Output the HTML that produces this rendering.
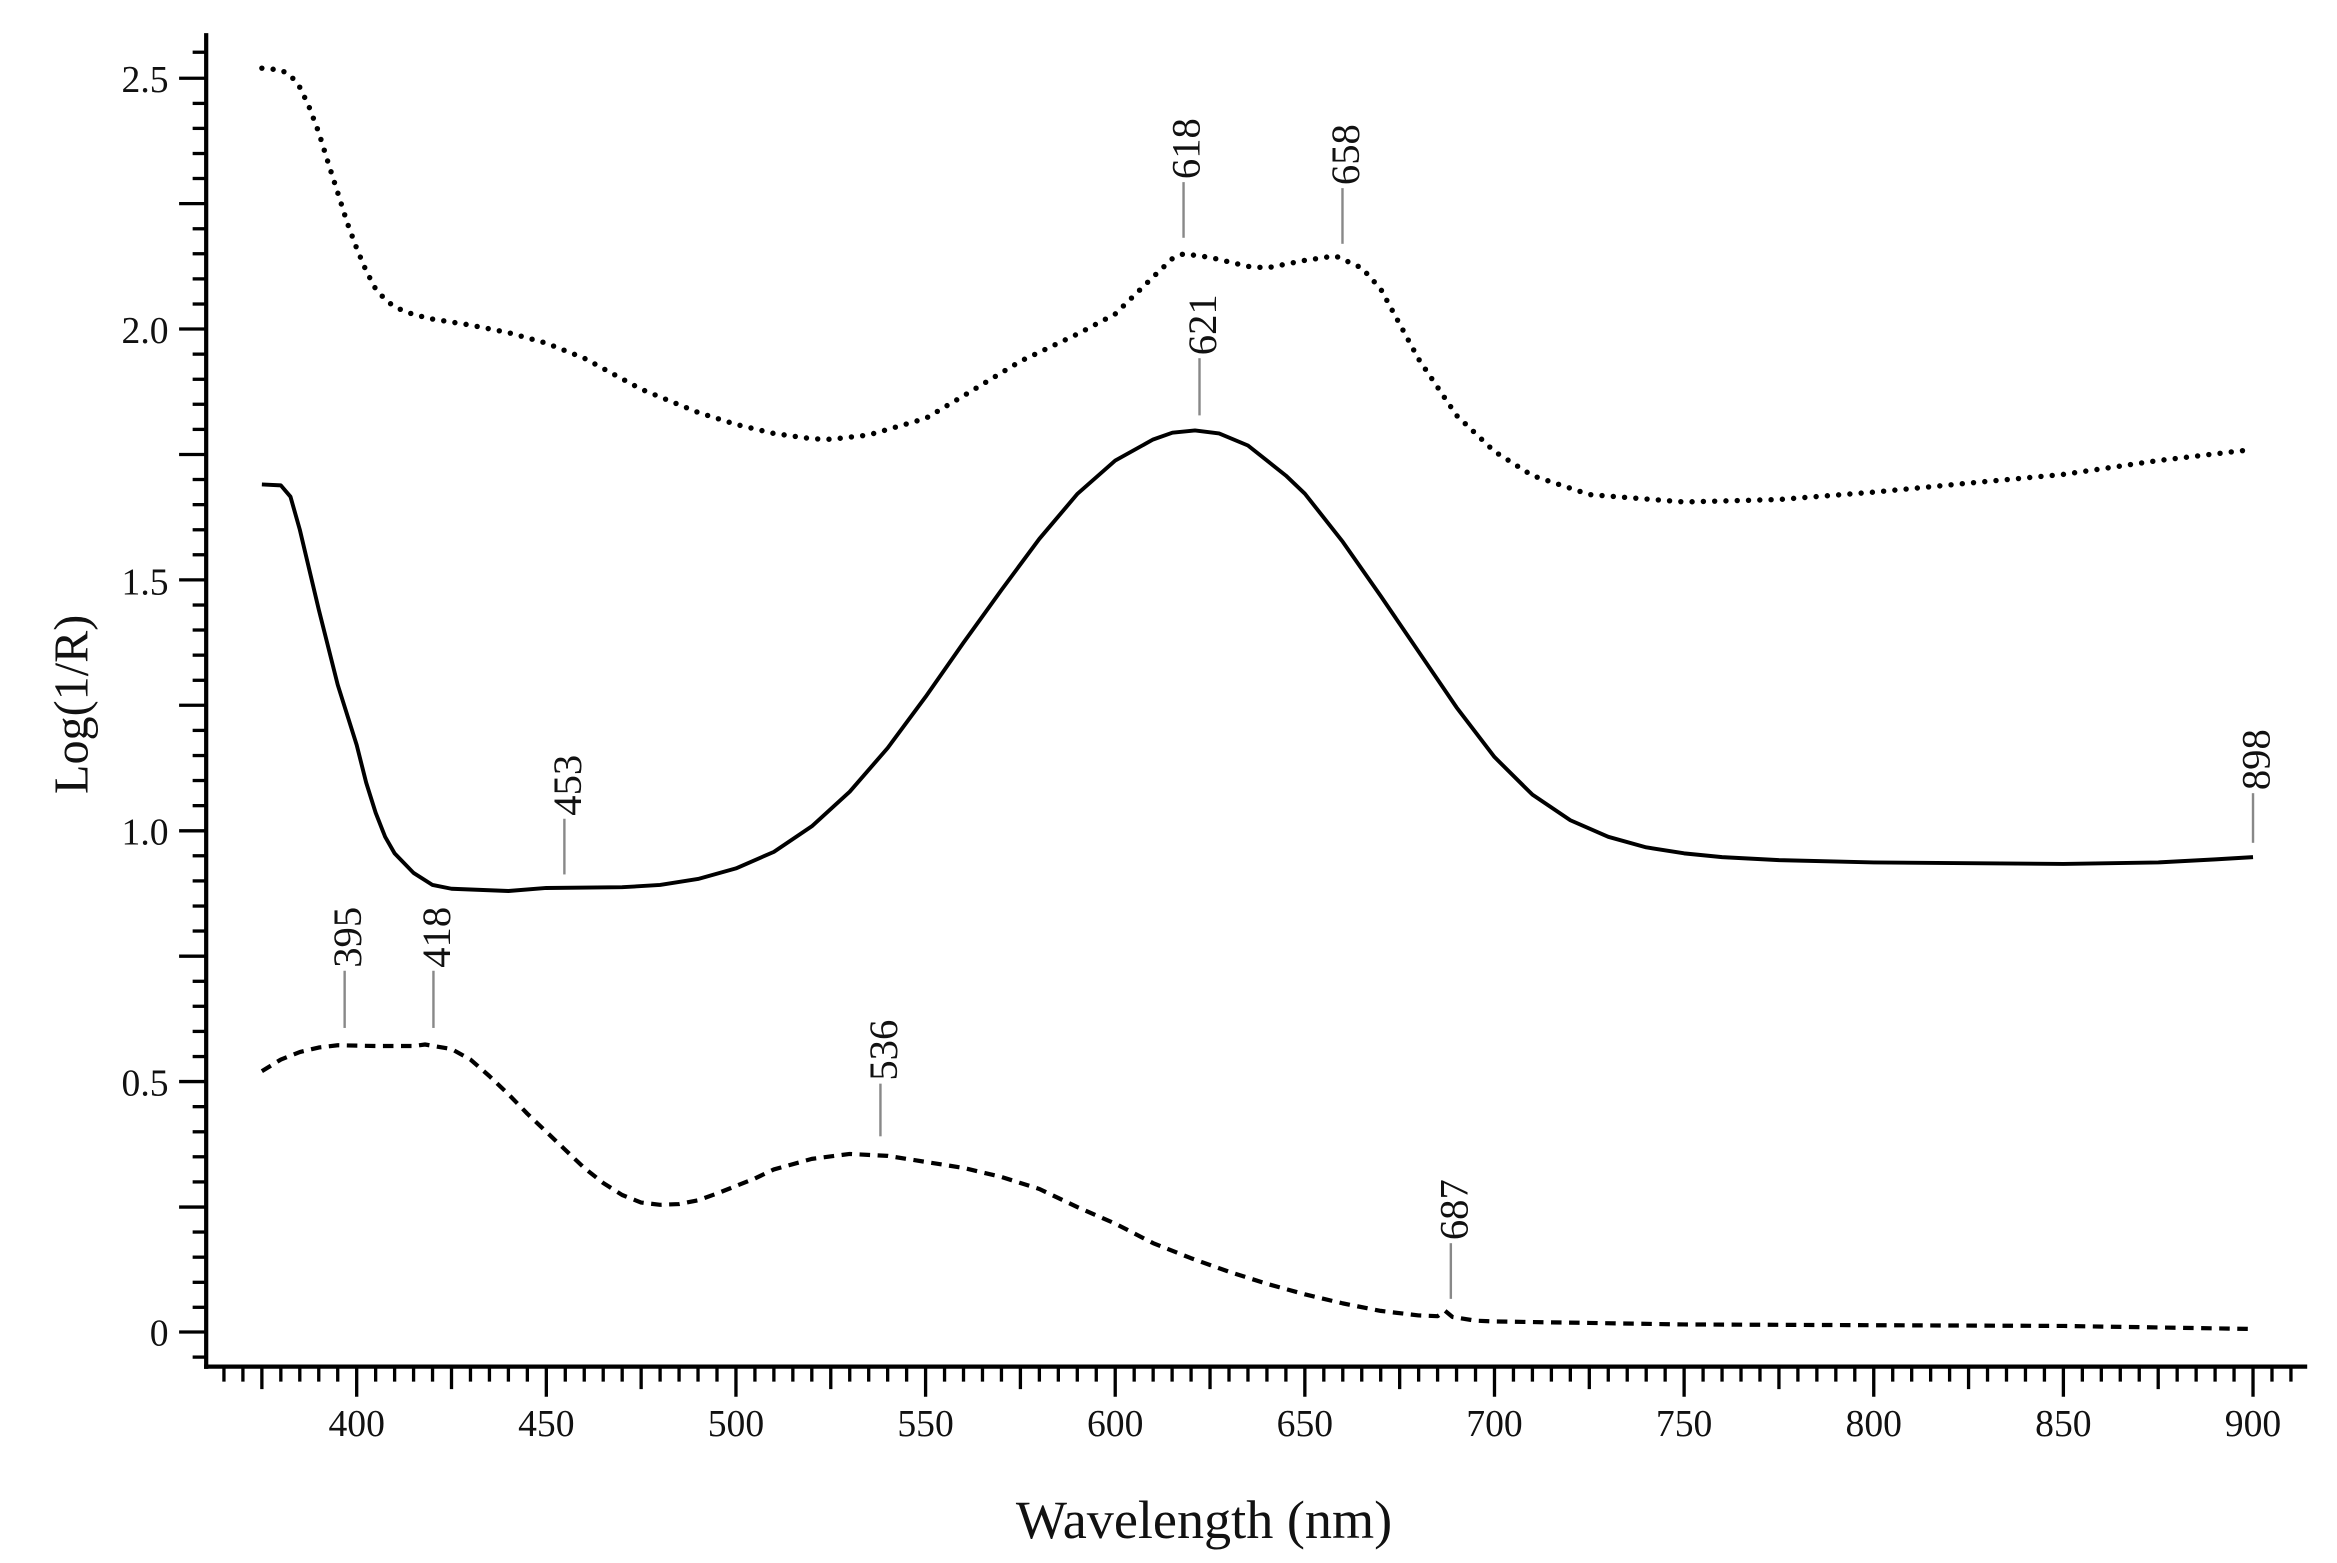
<!DOCTYPE html>
<html><head><meta charset="utf-8"><style>
html,body{margin:0;padding:0;background:#fff;}
svg{display:block;}
text{font-family:"Liberation Serif",serif;fill:#111;}
</style></head><body>
<svg width="2337" height="1563" viewBox="0 0 1552.8 1038.5" preserveAspectRatio="none" xmlns="http://www.w3.org/2000/svg">
<rect width="1552.8" height="1038.5" fill="#fff"/>
<g stroke="#000" fill="none">
<line x1="137" y1="22" x2="137" y2="909.5" stroke-width="2.8"/>
<line x1="135.6" y1="908" x2="1533" y2="908" stroke-width="2.8"/>
<g stroke-width="2.2">
<line x1="128" y1="34.7" x2="137" y2="34.7"/><line x1="119" y1="52" x2="137" y2="52"/>
<line x1="128" y1="68.7" x2="137" y2="68.7"/><line x1="128" y1="85.3" x2="137" y2="85.3"/>
<line x1="128" y1="102" x2="137" y2="102"/><line x1="128" y1="118.6" x2="137" y2="118.6"/>
<line x1="119" y1="135.3" x2="137" y2="135.3"/><line x1="128" y1="152" x2="137" y2="152"/>
<line x1="128" y1="168.6" x2="137" y2="168.6"/><line x1="128" y1="185.3" x2="137" y2="185.3"/>
<line x1="128" y1="202" x2="137" y2="202"/><line x1="119" y1="218.6" x2="137" y2="218.6"/>
<line x1="128" y1="235.3" x2="137" y2="235.3"/><line x1="128" y1="252" x2="137" y2="252"/>
<line x1="128" y1="268.6" x2="137" y2="268.6"/><line x1="128" y1="285.3" x2="137" y2="285.3"/>
<line x1="119" y1="302" x2="137" y2="302"/><line x1="128" y1="318.6" x2="137" y2="318.6"/>
<line x1="128" y1="335.3" x2="137" y2="335.3"/><line x1="128" y1="352" x2="137" y2="352"/>
<line x1="128" y1="368.6" x2="137" y2="368.6"/><line x1="119" y1="385.3" x2="137" y2="385.3"/>
<line x1="128" y1="402" x2="137" y2="402"/><line x1="128" y1="418.6" x2="137" y2="418.6"/>
<line x1="128" y1="435.3" x2="137" y2="435.3"/><line x1="128" y1="452" x2="137" y2="452"/>
<line x1="119" y1="468.6" x2="137" y2="468.6"/><line x1="128" y1="485.3" x2="137" y2="485.3"/>
<line x1="128" y1="502" x2="137" y2="502"/><line x1="128" y1="518.6" x2="137" y2="518.6"/>
<line x1="128" y1="535.3" x2="137" y2="535.3"/><line x1="119" y1="552" x2="137" y2="552"/>
<line x1="128" y1="568.6" x2="137" y2="568.6"/><line x1="128" y1="585.3" x2="137" y2="585.3"/>
<line x1="128" y1="602" x2="137" y2="602"/><line x1="128" y1="618.6" x2="137" y2="618.6"/>
<line x1="119" y1="635.3" x2="137" y2="635.3"/><line x1="128" y1="652" x2="137" y2="652"/>
<line x1="128" y1="668.6" x2="137" y2="668.6"/><line x1="128" y1="685.3" x2="137" y2="685.3"/>
<line x1="128" y1="702" x2="137" y2="702"/><line x1="119" y1="718.6" x2="137" y2="718.6"/>
<line x1="128" y1="735.3" x2="137" y2="735.3"/><line x1="128" y1="752" x2="137" y2="752"/>
<line x1="128" y1="768.6" x2="137" y2="768.6"/><line x1="128" y1="785.3" x2="137" y2="785.3"/>
<line x1="119" y1="802" x2="137" y2="802"/><line x1="128" y1="818.6" x2="137" y2="818.6"/>
<line x1="128" y1="835.3" x2="137" y2="835.3"/><line x1="128" y1="852" x2="137" y2="852"/>
<line x1="128" y1="868.6" x2="137" y2="868.6"/><line x1="119" y1="885" x2="137" y2="885"/>
<line x1="128" y1="901.7" x2="137" y2="901.7"/>
</g>
</g>
<g stroke="#000" stroke-width="2.2" fill="none">
<path d="M148.8 908v10M161.4 908v10M174 908v15M186.6 908v10M199.2 908v10M211.8 908v10M224.4 908v10M237 908v20M249.6 908v10M262.2 908v10M274.8 908v10M287.4 908v10M300 908v15M312.6 908v10M325.2 908v10M337.8 908v10M350.4 908v10M363 908v20M375.6 908v10M388.2 908v10M400.8 908v10M413.4 908v10M426 908v15M438.6 908v10M451.2 908v10M463.8 908v10M476.4 908v10M489 908v20M501.6 908v10M514.2 908v10M526.8 908v10M539.4 908v10M552 908v15M564.6 908v10M577.2 908v10M589.8 908v10M602.4 908v10M615 908v20M627.6 908v10M640.2 908v10M652.8 908v10M665.4 908v10M678 908v15M690.6 908v10M703.2 908v10M715.8 908v10M728.4 908v10M741 908v20M753.6 908v10M766.2 908v10M778.8 908v10M791.4 908v10M804 908v15M816.6 908v10M829.2 908v10M841.8 908v10M854.4 908v10M867 908v20M879.6 908v10M892.2 908v10M904.8 908v10M917.4 908v10M930 908v15M942.6 908v10M955.2 908v10M967.8 908v10M980.4 908v10M993 908v20M1005.6 908v10M1018.2 908v10M1030.8 908v10M1043.4 908v10M1056 908v15M1068.6 908v10M1081.2 908v10M1093.8 908v10M1106.4 908v10M1119 908v20M1131.6 908v10M1144.2 908v10M1156.8 908v10M1169.4 908v10M1182 908v15M1194.6 908v10M1207.2 908v10M1219.8 908v10M1232.4 908v10M1245 908v20M1257.6 908v10M1270.2 908v10M1282.8 908v10M1295.4 908v10M1308 908v15M1320.6 908v10M1333.2 908v10M1345.8 908v10M1358.4 908v10M1371 908v20M1383.6 908v10M1396.2 908v10M1408.8 908v10M1421.4 908v10M1434 908v15M1446.6 908v10M1459.2 908v10M1471.8 908v10M1484.4 908v10M1497 908v20M1509.6 908v10M1522.2 908v10"/>
</g>
<g font-size="25" text-anchor="end">
<text x="112" y="61">2.5</text><text x="112" y="228">2.0</text><text x="112" y="395">1.5</text>
<text x="112" y="561">1.0</text><text x="112" y="728">0.5</text><text x="112" y="894">0</text>
</g>
<g font-size="25" text-anchor="middle">
<text x="237" y="954">400</text><text x="363" y="954">450</text><text x="489" y="954">500</text>
<text x="615" y="954">550</text><text x="741" y="954">600</text><text x="867" y="954">650</text>
<text x="993" y="954">700</text><text x="1119" y="954">750</text><text x="1245" y="954">800</text>
<text x="1371" y="954">850</text><text x="1497" y="954">900</text>
</g>
<text x="800" y="1022" font-size="36" text-anchor="middle">Wavelength (nm)</text>
<text transform="translate(58,468) rotate(-90)" font-size="32" text-anchor="middle">Log(1/R)</text>
<polyline fill="none" stroke="#000" stroke-width="3.6" stroke-linecap="round" stroke-dasharray="0 7.5" stroke-linejoin="round"
points="174,45.3 186.6,46.5 193,50 199.2,58 205,70 211.8,88 218,108 224.4,128 230.7,148 237,165 243.3,180 249.6,192 256,199 262.2,204 274.8,209 287.4,212 300,214 312.6,216 337.8,221 363,228 388.2,238 426,258.6 463.8,274 489,282 514.2,288 539.4,291.5 552,291.9 577.2,289 615,278 640.2,263 678,240 715.8,222 741,208.6 766.2,184 778.8,172 786.4,168.6 804,171 829.2,177 841.8,178 867,173 887.2,170 904.8,178 917.4,192 942.6,238.6 967.8,276 993,300 1018.2,316 1056,328.6 1119,333.5 1182,331.9 1245,327 1308,321 1371,315.2 1434,306 1497,298.6"/>
<polyline fill="none" stroke="#000" stroke-width="2.6" stroke-linejoin="round"
points="174,321.9 186.6,322.5 193,330 199.2,351.9 211.8,405 224.4,455 237,495 243.3,520 249.6,540 255.9,556 262.2,567 274.8,580 287.4,588 300,590.5 337.8,592 363,590 413.4,589.5 438.6,588 463.8,584 489,577 514.2,566 539.4,549 564.6,526 589.8,497 615,463 640.2,427 665.4,392 690.6,358 716,328 741,306 766.2,292 779,287.5 794,286 810,288 829.2,296 854.4,316 867,328 892.2,360 917.4,396 942.6,433 967.8,470 993,503 1018.2,528 1043.4,545 1068.6,556 1093.8,563 1119,567 1144.2,569.5 1182,571.5 1245,573 1308,573.5 1371,574 1434,573 1472,571 1497,569.5"/>
<polyline fill="none" stroke="#000" stroke-width="2.8" stroke-dasharray="7 5" stroke-linejoin="round"
points="174,711.7 186.6,704 199.2,699 211.8,696 224.4,694.5 249.6,695 274.8,695 282.4,694 300,697 312.6,704 325.2,715 337.8,727 350.4,740 363,752 375.6,764 388.2,776 400.8,786 413.4,794 426,799 438.6,800.5 451.2,800 463.8,797.5 476.4,793 489,788 501.6,783 514.2,777 539.4,770 564.6,766.7 589.8,768 615,772 640.2,776 665.4,782 690.6,790 715.8,802 741,813 766.2,826 791.4,836 816.6,845 841.8,853 867,860 892.2,866 917.4,871 942.6,874 955.2,874.5 960.2,871 965,875 980.4,877.5 993,878 1056,879 1119,880 1245,880.5 1371,881 1434,882 1497,883"/>
<g stroke="#888" stroke-width="1.6">
<line x1="786.4" y1="121" x2="786.4" y2="158"/>
<line x1="892" y1="125" x2="892" y2="162"/>
<line x1="797" y1="238" x2="797" y2="276"/>
<line x1="375" y1="544" x2="375" y2="581"/>
<line x1="1497" y1="527" x2="1497" y2="560"/>
<line x1="229" y1="645" x2="229" y2="683"/>
<line x1="288" y1="645" x2="288" y2="683"/>
<line x1="585" y1="720" x2="585" y2="755"/>
<line x1="964" y1="826" x2="964" y2="863"/>
</g>
<g font-size="27">
<text transform="translate(797,119) rotate(-90)">618</text>
<text transform="translate(903,123) rotate(-90)">658</text>
<text transform="translate(808,236) rotate(-90)">621</text>
<text transform="translate(386,542) rotate(-90)">453</text>
<text transform="translate(1508,525) rotate(-90)">898</text>
<text transform="translate(240,643) rotate(-90)">395</text>
<text transform="translate(299,643) rotate(-90)">418</text>
<text transform="translate(596,718) rotate(-90)">536</text>
<text transform="translate(975,824) rotate(-90)">687</text>
</g>
</svg>
</body></html>
